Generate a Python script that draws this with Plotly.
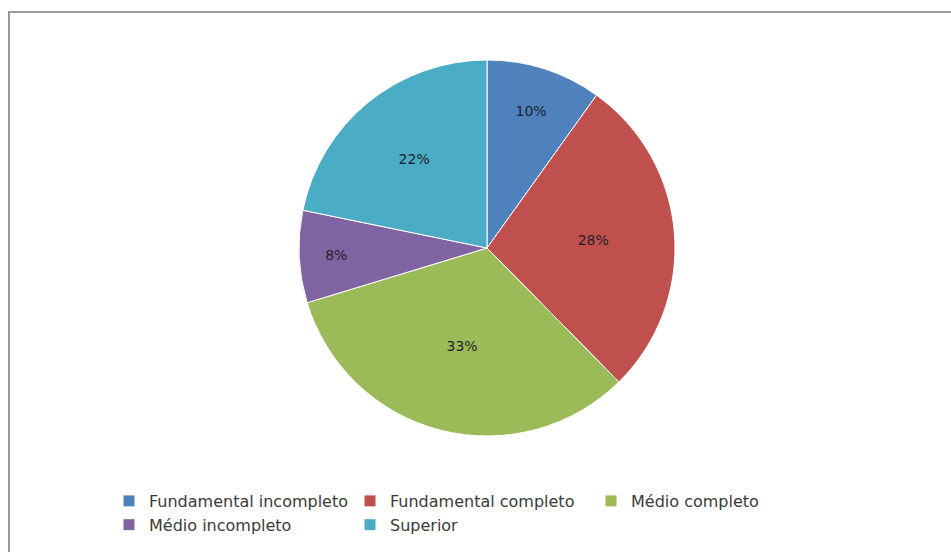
import plotly.graph_objects as go

categories = ["Fundamental incompleto", "Fundamental completo", "Médio completo",
              "Médio incompleto", "Superior"]
values = [10, 28, 33, 8, 22]
colors = ["#4F81BD", "#C0504D", "#9BBB59", "#8064A2", "#4BACC6"]

W, H = 951, 552
cx, cy, r = 487, 248, 188

fig = go.Figure(go.Pie(
    labels=categories,
    values=values,
    sort=False,
    direction="clockwise",
    rotation=0,
    marker=dict(colors=colors, line=dict(color="white", width=1)),
    texttemplate="%{value}%",
    textposition="inside",
    insidetextorientation="horizontal",
    textfont=dict(family="DejaVu Sans", size=14, color="#1f1f2a"),
    hoverinfo="label+percent",
    domain=dict(x=[(cx - 300) / W, (cx + 300) / W],
                y=[1 - (cy + r) / H, 1 - (cy - r) / H]),
))

fig.update_layout(
    width=W, height=H,
    margin=dict(l=0, r=0, t=0, b=0, autoexpand=False),
    paper_bgcolor="white",
    plot_bgcolor="white",
    showlegend=True,
    legend=dict(
        orientation="h",
        x=109 / W, xanchor="left",
        y=1 - 484 / H, yanchor="top",
        entrywidth=196, entrywidthmode="pixels",
        bgcolor="rgba(0,0,0,0)",
        font=dict(family="DejaVu Sans", size=16, color="#3a3a3a"),
        itemwidth=30,
        traceorder="normal",
    ),
    uniformtext=dict(minsize=10, mode="show"),
    shapes=[dict(type="rect", xref="paper", yref="paper",
                 x0=9 / W, x1=1.01, y0=-0.01, y1=1 - 12 / H,
                 line=dict(color="#999999", width=2), fillcolor="rgba(0,0,0,0)")],
)

fig.write_html("out.html", config={"displayModeBar": False},
               post_script="document.body.style.margin='0';")
